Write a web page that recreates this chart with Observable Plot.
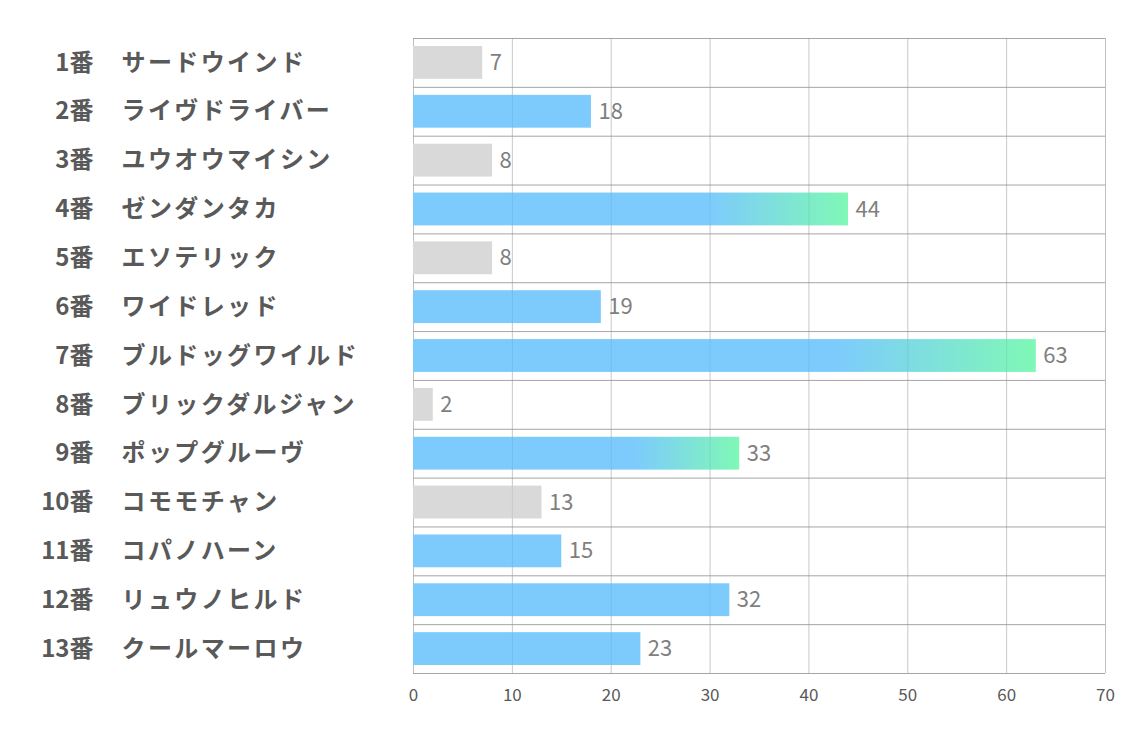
<!DOCTYPE html>
<html>
<head>
<meta charset="utf-8">
<script src="https://cdn.jsdelivr.net/npm/d3@7"></script>
<script src="https://cdn.jsdelivr.net/npm/@observablehq/plot@0.6"></script>
<style>
  html, body { margin: 0; padding: 0; background: #fff; }
  svg { display: block; }
</style>
</head>
<body>
<div id="chart"></div>
<script>
const numbers = ["1番","2番","3番","4番","5番","6番","7番","8番","9番","10番","11番","12番","13番"];
const names = ["サードウインド","ライヴドライバー","ユウオウマイシン","ゼンダンタカ","エソテリック","ワイドレッド","ブルドッグワイルド","ブリックダルジャン","ポップグルーヴ","コモモチャン","コパノハーン","リュウノヒルド","クールマーロウ"];
const values = [7, 18, 8, 44, 8, 19, 63, 2, 33, 13, 15, 32, 23];
const xTicks = [0, 10, 20, 30, 40, 50, 60, 70];

const data = values.map((v, i) => ({i, num: numbers[i], name: names[i], value: v}));
const top3 = [...values].sort((a, b) => b - a).slice(0, 3);
const isTop = d => top3.includes(d.value);
const isBlue = d => !isTop(d) && d.value >= 15;
const isGray = d => d.value < 15;

const font = "'Noto Sans CJK JP', 'Noto Sans', sans-serif";

const plot = Plot.plot({
  width: 1134,
  height: 737,
  marginLeft: 413,
  marginRight: 29,
  marginTop: 38,
  marginBottom: 64,
  style: {fontFamily: font, background: "#fff"},
  x: {domain: [0, 70], axis: null},
  y: {domain: [0, 13], reverse: true, axis: null},
  marks: [
    Plot.ruleX(xTicks.slice(1, -1), {stroke: "#d9d9d9", strokeWidth: 1}),
    Plot.ruleX([0, 70], {stroke: "#bfbfbf", strokeWidth: 1}),
    Plot.ruleY(d3.range(0, 14), {stroke: "#a6a6a6", strokeWidth: 1}),
    Plot.rect(data.filter(isGray), {x1: 0, x2: "value", y1: "i", y2: d => d.i + 1, insetTop: 8, insetBottom: 8, fill: "#d9d9d9"}),
    Plot.rect(data.filter(isBlue), {x1: 0, x2: "value", y1: "i", y2: d => d.i + 1, insetTop: 8, insetBottom: 8, fill: "#7dcbfd"}),
    Plot.rect(data.filter(isTop), {x1: 0, x2: "value", y1: "i", y2: d => d.i + 1, insetTop: 8, insetBottom: 8, fill: "url(#barGrad)"}),
    Plot.ruleX(xTicks.slice(1, -1), {y1: 0, y2: 13, stroke: "#000", strokeOpacity: 0.07, strokeWidth: 1}),
    Plot.text(xTicks, {x: d => d, frameAnchor: "bottom", dy: 27, text: d => String(d), fill: "#595959", fontSize: 17}),
    Plot.text(data, {x: "value", y: d => d.i + 0.5, text: d => String(d.value), dx: 7, textAnchor: "start", fill: "#7f7f7f", fontSize: 22}),
    Plot.text(data, {y: d => d.i + 0.5, frameAnchor: "left", text: "num", dx: -320, textAnchor: "end", fill: "#595959", fontSize: 24, fontWeight: "bold"}),
    Plot.text(data, {y: d => d.i + 0.5, frameAnchor: "left", text: "name", dx: -292, textAnchor: "start", fill: "#595959", fontSize: 24, fontWeight: "bold"})
  ]
});

// letter spacing for the horse names (last text group)
const textGroups = plot.querySelectorAll('g[aria-label="text"]');
if (textGroups.length) textGroups[textGroups.length - 1].style.letterSpacing = "2.4px";

const ns = "http://www.w3.org/2000/svg";
const defs = document.createElementNS(ns, "defs");
const grad = document.createElementNS(ns, "linearGradient");
grad.setAttribute("id", "barGrad");
grad.setAttribute("x1", "0"); grad.setAttribute("x2", "1");
grad.setAttribute("y1", "0"); grad.setAttribute("y2", "0");
[["0", "#7dcbfd"], ["0.68", "#7dcbfd"], ["1", "#7ff8b6"]].forEach(([o, c]) => {
  const s = document.createElementNS(ns, "stop");
  s.setAttribute("offset", o);
  s.setAttribute("stop-color", c);
  grad.appendChild(s);
});
defs.appendChild(grad);
plot.insertBefore(defs, plot.firstChild);
document.getElementById("chart").appendChild(plot);
</script>
</body>
</html>
